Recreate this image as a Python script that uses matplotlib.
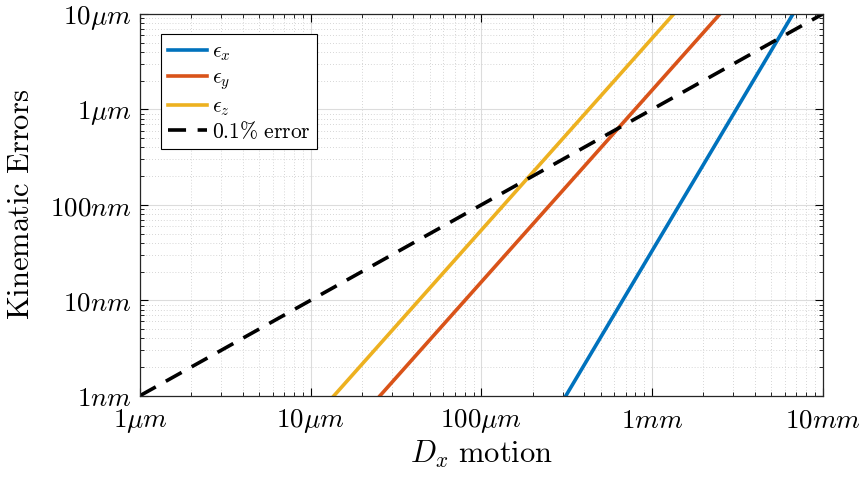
import matplotlib
matplotlib.use('Agg')
import matplotlib.pyplot as plt
from matplotlib.ticker import LogLocator, NullFormatter

plt.rcParams['mathtext.fontset'] = 'cm'
plt.rcParams['font.family'] = ['DejaVu Serif']

# end points (motion [m], error [m])
ex_motion = [3.13e-4, 6.7e-3]
ex_error = [1e-9, 1e-5]
ey_motion = [2.55e-5, 2.5e-3]
ey_error = [1e-9, 1e-5]
ez_motion = [1.37e-5, 1.34e-3]
ez_error = [1e-9, 1e-5]
lim_motion = [1e-6, 1e-2]
lim_error = [1e-9, 1e-5]

xtick_vals = [1e-6, 1e-5, 1e-4, 1e-3, 1e-2]
xtick_labels = [r'$1\mu m$', r'$10\mu m$', r'$100\mu m$', r'$1mm$', r'$10mm$']
ytick_vals = [1e-9, 1e-8, 1e-7, 1e-6, 1e-5]
ytick_labels = [r'$1nm$', r'$10nm$', r'$100nm$', r'$1\mu m$', r'$10\mu m$']

fig = plt.figure(figsize=(8.61, 4.78), dpi=100)
ax = fig.add_axes([0.1626, 0.1722, 0.7929, 0.7985])

lw = 2.6
ax.plot(ex_motion, ex_error, color='#0072BD', lw=lw, label=r'$\epsilon_x$')
ax.plot(ey_motion, ey_error, color='#D95319', lw=lw, label=r'$\epsilon_y$')
ax.plot(ez_motion, ez_error, color='#EDB120', lw=lw, label=r'$\epsilon_z$')
ax.plot(lim_motion, lim_error, color='black', lw=lw, dashes=(5, 3.2),
        label=r'$0.1\%\ \mathrm{error}$')

ax.set_xscale('log')
ax.set_yscale('log')
ax.set_xlim(1e-6, 1e-2)
ax.set_ylim(1e-9, 1e-5)

ax.set_xticks(xtick_vals)
ax.set_xticklabels(xtick_labels)
ax.set_yticks(ytick_vals)
ax.set_yticklabels(ytick_labels)
ax.xaxis.set_minor_locator(LogLocator(base=10, subs=range(2, 10), numticks=20))
ax.yaxis.set_minor_locator(LogLocator(base=10, subs=range(2, 10), numticks=20))
ax.xaxis.set_minor_formatter(NullFormatter())
ax.yaxis.set_minor_formatter(NullFormatter())

ax.tick_params(which='both', direction='in', top=True, right=True, labelsize=19.5)
ax.tick_params(which='major', length=6, width=0.8)
ax.tick_params(which='minor', length=3, width=0.6)
ax.tick_params(axis='x', pad=8)
ax.tick_params(axis='y', pad=6)

ax.grid(True, which='major', color='#dcdcdc', lw=0.8, ls='-')
ax.grid(True, which='minor', color='#c8c8c8', lw=0.6, ls=(0, (1, 2.5)))
ax.set_axisbelow(True)
for s in ax.spines.values():
    s.set_linewidth(0.9)
    s.set_color('#262626')

ax.set_xlabel(r'$D_x\ \mathrm{motion}$', fontsize=22, labelpad=3)
ax.set_ylabel(r'$\mathrm{Kinematic\ Errors}$', fontsize=22, labelpad=10)

leg = ax.legend(loc='upper left', bbox_to_anchor=(0.031, 0.948), borderaxespad=0,
                fontsize=15.5, fancybox=False, edgecolor='black', framealpha=1,
                handlelength=1.85, handletextpad=0.2, labelspacing=0.15,
                borderpad=0.3)
leg.get_frame().set_linewidth(0.8)

fig.savefig('out.png', dpi=100)
